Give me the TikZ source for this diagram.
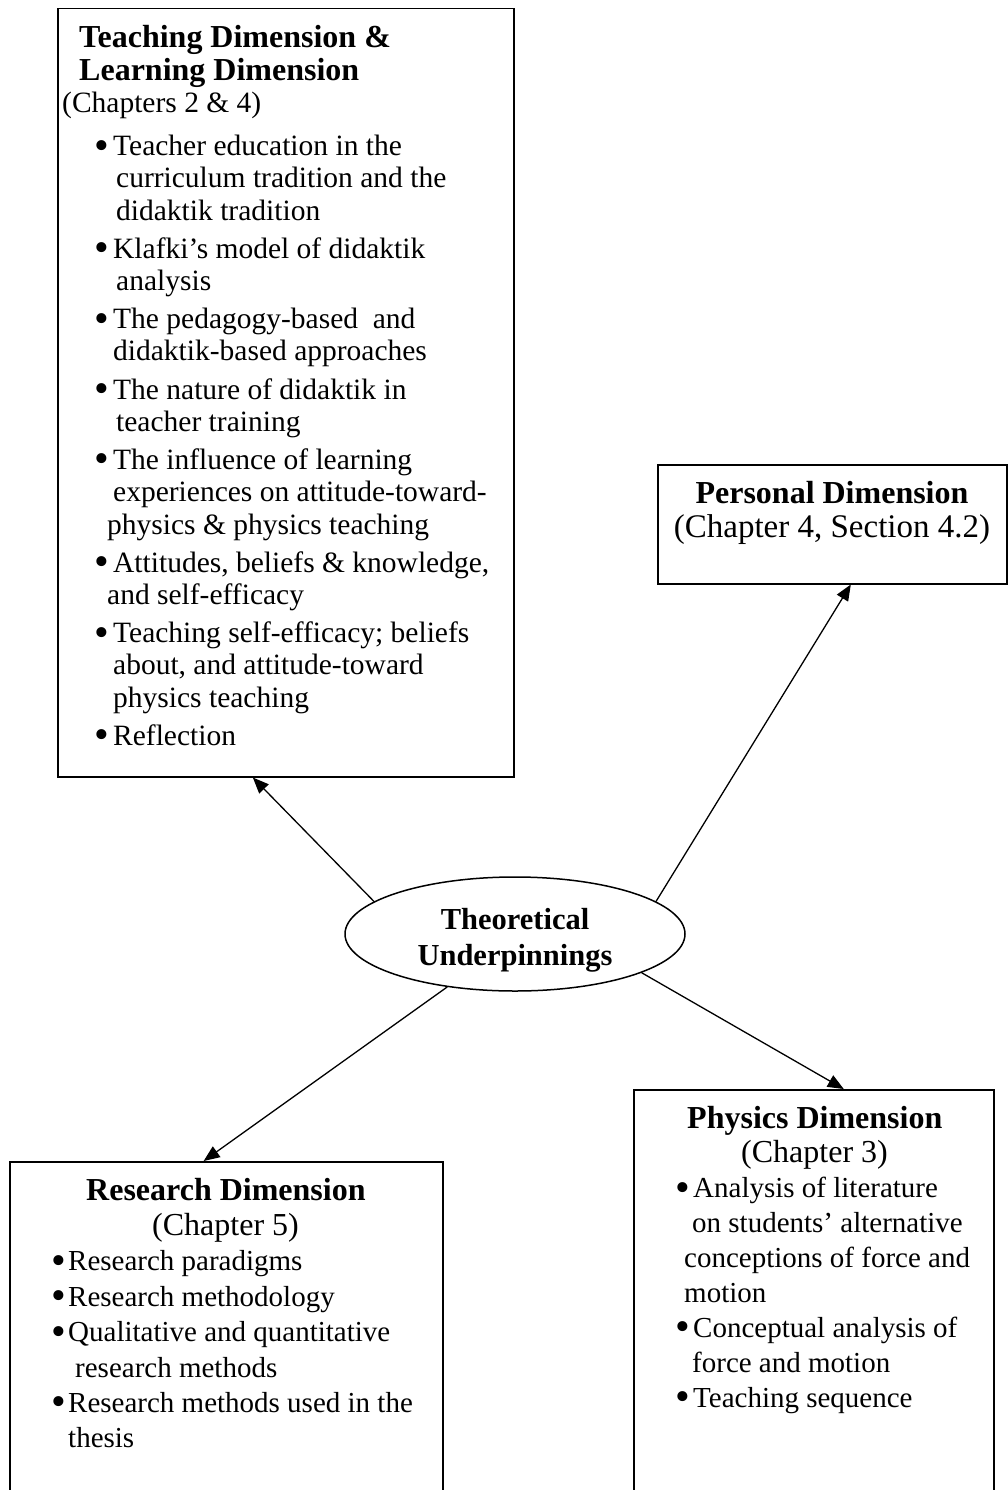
\documentclass[tikz,border=0pt]{standalone}
\usepackage{fontspec}
\setmainfont{Liberation Serif}
\usetikzlibrary{shapes.geometric,arrows.meta,calc}
\newcommand{\dotb}{\raisebox{-3.5pt}{\fontsize{42}{42}\selectfont•}}
\newcommand{\bul}[1]{\makebox[#1][l]{\hspace{-2.5pt}\dotb}}
\begin{document}
\begin{tikzpicture}[x=1pt,y=-1pt,
  box/.style={draw, line width=1.5pt, rectangle, anchor=north west, inner sep=0pt},
  conn/.style={line width=1.3pt, -{Triangle[length=16pt,width=13pt]}},
  txt/.style={inner sep=0pt, anchor=base west}]
\useasboundingbox (0,0) rectangle (1008,1490);
\clip (0,0) rectangle (1008,1490);

% boxes
\node[box, minimum width=456pt, minimum height=768pt] (teach) at (57,8) {};
\node[box, minimum width=349pt, minimum height=119pt] (pers) at (657,464) {};
\node[box, minimum width=433pt, minimum height=360pt] (res) at (9,1161) {};
\node[box, minimum width=360pt, minimum height=430pt] (phys) at (633,1089) {};

% ellipse
\node[ellipse, draw, line width=1.5pt, minimum width=340pt, minimum height=114pt, inner sep=0pt,
      align=center, font=\fontsize{30.5}{36}\selectfont\bfseries] (ell) at (515,934)
      {\rule{0pt}{34pt}Theoretical\\Underpinnings};

% teaching text
\node[txt] (teachtxt) at (62,48) {\parbox[t]{450pt}{\fontsize{29.5}{32.3}\selectfont\raggedright
\hspace*{17pt}{\fontsize{32}{32.3}\selectfont\bfseries Teaching Dimension \&}\\
\hspace*{17pt}{\fontsize{32}{32.3}\selectfont\bfseries Learning Dimension}\\
(Chapters 2 \& 4)\\[10.7pt]
\hspace*{35pt}\bul{16pt}Teacher education in the\\
\hspace*{54pt}curriculum tradition and the\\
\hspace*{54pt}didaktik tradition\\[5.8pt]
\hspace*{35pt}\bul{16pt}Klafki’s model of didaktik\\
\hspace*{54pt}analysis\\[5.8pt]
\hspace*{35pt}\bul{16pt}The pedagogy-based\ \ and\\
\hspace*{51pt}didaktik-based approaches\\[5.8pt]
\hspace*{35pt}\bul{16pt}The nature of didaktik in\\
\hspace*{54pt}teacher training\\[5.8pt]
\hspace*{35pt}\bul{16pt}The influence of learning\\
\hspace*{51pt}experiences on attitude-toward-\\
\hspace*{45pt}physics \& physics teaching\\[5.8pt]
\hspace*{35pt}\bul{16pt}Attitudes, beliefs \& knowledge,\\
\hspace*{45pt}and self-efficacy\\[5.8pt]
\hspace*{35pt}\bul{16pt}Teaching self-efficacy; beliefs\\
\hspace*{51pt}about, and attitude-toward\\
\hspace*{51pt}physics teaching\\[5.8pt]
\hspace*{35pt}\bul{16pt}Reflection}};

% personal text
\node[inner sep=0pt, anchor=base] (perstxt) at (832,503) {\parbox[t]{349pt}{\fontsize{33}{34}\selectfont\centering
{\fontsize{32}{34}\selectfont\bfseries Personal Dimension}\\
(Chapter 4, Section 4.2)}};

% research text
\node[txt] (restxt) at (54,1200) {\parbox[t]{400pt}{\fontsize{29}{35.4}\selectfont\raggedright
\hspace*{32pt}{\fontsize{32}{35.4}\selectfont\bfseries Research Dimension}\\
\hspace*{98pt}{\fontsize{32}{35.4}\selectfont (Chapter 5)}\\
\bul{14pt}Research paradigms\\
\bul{14pt}Research methodology\\
\bul{14pt}Qualitative and quantitative\\
\hspace*{21pt}research methods\\
\bul{14pt}Research methods used in the\\
\hspace*{14pt}thesis}};

% physics text
\node[txt] (phystxt) at (678,1128) {\parbox[t]{320pt}{\fontsize{29}{34.9}\selectfont\raggedright
\hspace*{9pt}{\fontsize{32}{34.9}\selectfont\bfseries Physics Dimension}\\
\hspace*{63pt}{\fontsize{32}{34.9}\selectfont (Chapter 3)}\\
\bul{15pt}Analysis of literature\\
\hspace*{14pt}on students’ alternative\\
\hspace*{6pt}conceptions of force and\\
\hspace*{6pt}motion\\
\bul{15pt}Conceptual analysis of\\
\hspace*{14pt}force and motion\\
\bul{15pt}Teaching sequence}};

% connectors
\draw[conn] (ell.167.2) -- ($(teach.south west)!0.428!(teach.south east)$);
\draw[conn] (ell.13) -- ($(pers.south west)!0.553!(pers.south east)$);
\draw[conn] (ell.218.9) -- ($(res.north west)!0.448!(res.north east)$);
\draw[conn] (ell.-17.8) -- ($(phys.north west)!0.583!(phys.north east)$);
\end{tikzpicture}
\end{document}
